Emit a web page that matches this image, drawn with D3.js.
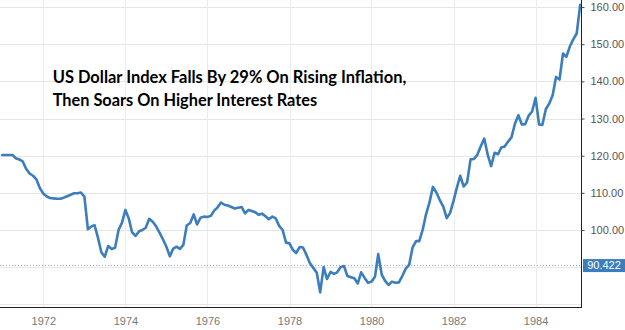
<!DOCTYPE html>
<html>
<head>
<meta charset="utf-8">
<script src="https://cdn.jsdelivr.net/npm/d3@7"></script>
<style>
  html, body { margin: 0; padding: 0; background: #fff; }
  svg { display: block; }
</style>
</head>
<body>
<svg id="chart" width="625" height="330"></svg>
<script>
// ---- data ----
const startYear = 1971;            // first monthly observation: Jan 1971
const values = [
  120.2,120.2,120.2,120.2,119.3,119.0,118.5,116.5,115.2,114.6,113.6,111.3,
  109.8,109.0,108.6,108.5,108.4,108.4,108.7,109.1,109.5,109.9,109.9,110.1,
  109.0,100.2,100.9,101.3,98.0,94.0,92.8,95.7,94.9,95.2,100.0,101.9,
  105.4,103.0,99.4,98.4,99.6,100.0,100.6,103.0,102.2,101.0,99.3,97.5,
  95.5,92.9,94.9,95.5,94.9,96.0,101.2,101.9,104.2,101.5,103.3,103.6,
  103.5,103.8,105.2,106.1,107.4,106.8,106.6,106.2,105.8,106.0,106.2,104.5,
  105.4,105.1,104.8,104.1,104.4,103.7,102.9,103.6,103.1,101.1,100.0,96.6,
  96.4,94.6,93.8,95.4,95.3,93.3,91.1,89.8,88.5,83.2,90.0,86.8,
  88.7,88.2,88.6,90.0,90.3,87.6,87.3,87.0,85.6,88.6,87.1,85.8,
  86.1,87.4,93.5,88.0,86.3,85.2,86.1,85.8,85.9,87.6,89.6,90.6,
  95.3,97.0,97.0,100.1,104.3,107.5,111.6,110.1,108.0,106.3,103.2,104.6,
  107.9,111.6,114.6,111.7,112.8,119.0,119.1,120.3,122.6,124.6,120.2,117.2,
  120.8,120.4,122.2,122.5,123.8,125.0,128.6,130.9,128.4,128.5,130.8,131.9,
  135.6,128.4,128.3,132.5,134.0,136.3,141.2,140.5,147.5,146.6,149.4,151.3,
  152.9,160.6
];
const yTicks = [100, 110, 120, 130, 140, 150, 160];
const xTickYears = [1972, 1974, 1976, 1978, 1980, 1982, 1984];
const lastValue = 90.422;
const titleLines = [
  "US Dollar Index Falls By 29% On Rising Inflation,",
  "Then Soars On Higher Interest Rates"
];

// ---- build ----
const data = values.map((v, i) => ({ date: new Date(startYear, i, 1), value: v }));

const svg = d3.select("#chart");
const plotRight = 581, plotBottom = 307;

const x = d3.scaleTime()
  .domain([new Date(1971, 0, 1), new Date(1985, 0, 1)])
  .range([2.3, 576.7]);
const y = d3.scaleLinear()
  .domain([79.27, 161.91])
  .range([plotBottom, 0]);

// horizontal gridlines
svg.append("g").selectAll("line")
  .data(d3.range(80, 161, 10))
  .join("line")
  .attr("x1", 0).attr("x2", plotRight)
  .attr("y1", d => Math.round(y(d)) + 0.5).attr("y2", d => Math.round(y(d)) + 0.5)
  .attr("stroke", "#e6e6e6").attr("stroke-width", 1);

// vertical gridlines
svg.append("g").selectAll("line")
  .data(xTickYears)
  .join("line")
  .attr("x1", d => Math.round(x(new Date(d, 0, 1))) + 0.5)
  .attr("x2", d => Math.round(x(new Date(d, 0, 1))) + 0.5)
  .attr("y1", 0).attr("y2", plotBottom)
  .attr("stroke", "#ececec").attr("stroke-width", 1);

// dotted last value line
svg.append("line")
  .attr("x1", 0).attr("x2", plotRight)
  .attr("y1", y(lastValue)).attr("y2", y(lastValue))
  .attr("stroke", "#8aaed3").attr("stroke-width", 1)
  .attr("stroke-dasharray", "1,2");

// the line
svg.append("path")
  .datum(data)
  .attr("fill", "none")
  .attr("stroke", "#3b7dbd")
  .attr("stroke-width", 2.6)
  .attr("stroke-linejoin", "round")
  .attr("stroke-linecap", "round")
  .attr("d", d3.line().x(d => x(d.date)).y(d => y(d.value)));

// right axis
const yAxis = d3.axisRight(y)
  .tickValues(yTicks)
  .tickSize(3)
  .tickPadding(6)
  .tickFormat(d3.format(".2f"));
const gy = svg.append("g")
  .attr("transform", `translate(${plotRight + 0.5},0)`)
  .call(yAxis);
gy.select(".domain").attr("stroke", "#222").attr("d", `M0,0V${plotBottom + 1}`);
gy.selectAll(".tick line").attr("stroke", "#444");
gy.selectAll(".tick text")
  .attr("fill", "#555")
  .attr("font-family", "Liberation Sans, Arial, sans-serif")
  .attr("font-size", 11);

// bottom axis
const xAxis = d3.axisBottom(x)
  .tickValues(xTickYears.map(yy => new Date(yy, 0, 1)))
  .tickSize(0)
  .tickPadding(10)
  .tickFormat(d3.timeFormat("%Y"));
const gx = svg.append("g")
  .attr("transform", `translate(0,${plotBottom + 0.5})`)
  .call(xAxis);
gx.select(".domain").attr("stroke", "#222").attr("d", `M0,0H${plotRight + 1}`);
gx.selectAll(".tick text")
  .attr("fill", "#777")
  .attr("font-family", "Liberation Sans, Arial, sans-serif")
  .attr("font-size", 11);

// last value badge
const badgeY = y(lastValue);
svg.append("rect")
  .attr("x", plotRight + 2).attr("y", badgeY - 6.5)
  .attr("width", 625 - plotRight - 2).attr("height", 13)
  .attr("fill", "#3b7dbd");
svg.append("text")
  .attr("x", 604).attr("y", badgeY)
  .attr("dy", "0.35em")
  .attr("text-anchor", "middle")
  .attr("fill", "#fff")
  .attr("font-family", "Liberation Sans, Arial, sans-serif")
  .attr("font-size", 11)
  .text(d3.format(".3f")(lastValue));

// title
const targetWidths = [354, 264.6];
const tt = svg.append("g");
titleLines.forEach((t, i) => {
  const el = tt.append("text")
    .attr("x", 52.7).attr("y", 83 + i * 23)
    .attr("fill", "#000")
    .attr("font-family", "Lato, 'Open Sans', sans-serif")
    .attr("font-weight", "bold")
    .attr("font-size", 17)
    .text(t);
  const w = el.node().getComputedTextLength();
  el.attr("font-size", 17 * targetWidths[i] / w);
});
</script>
</body>
</html>
